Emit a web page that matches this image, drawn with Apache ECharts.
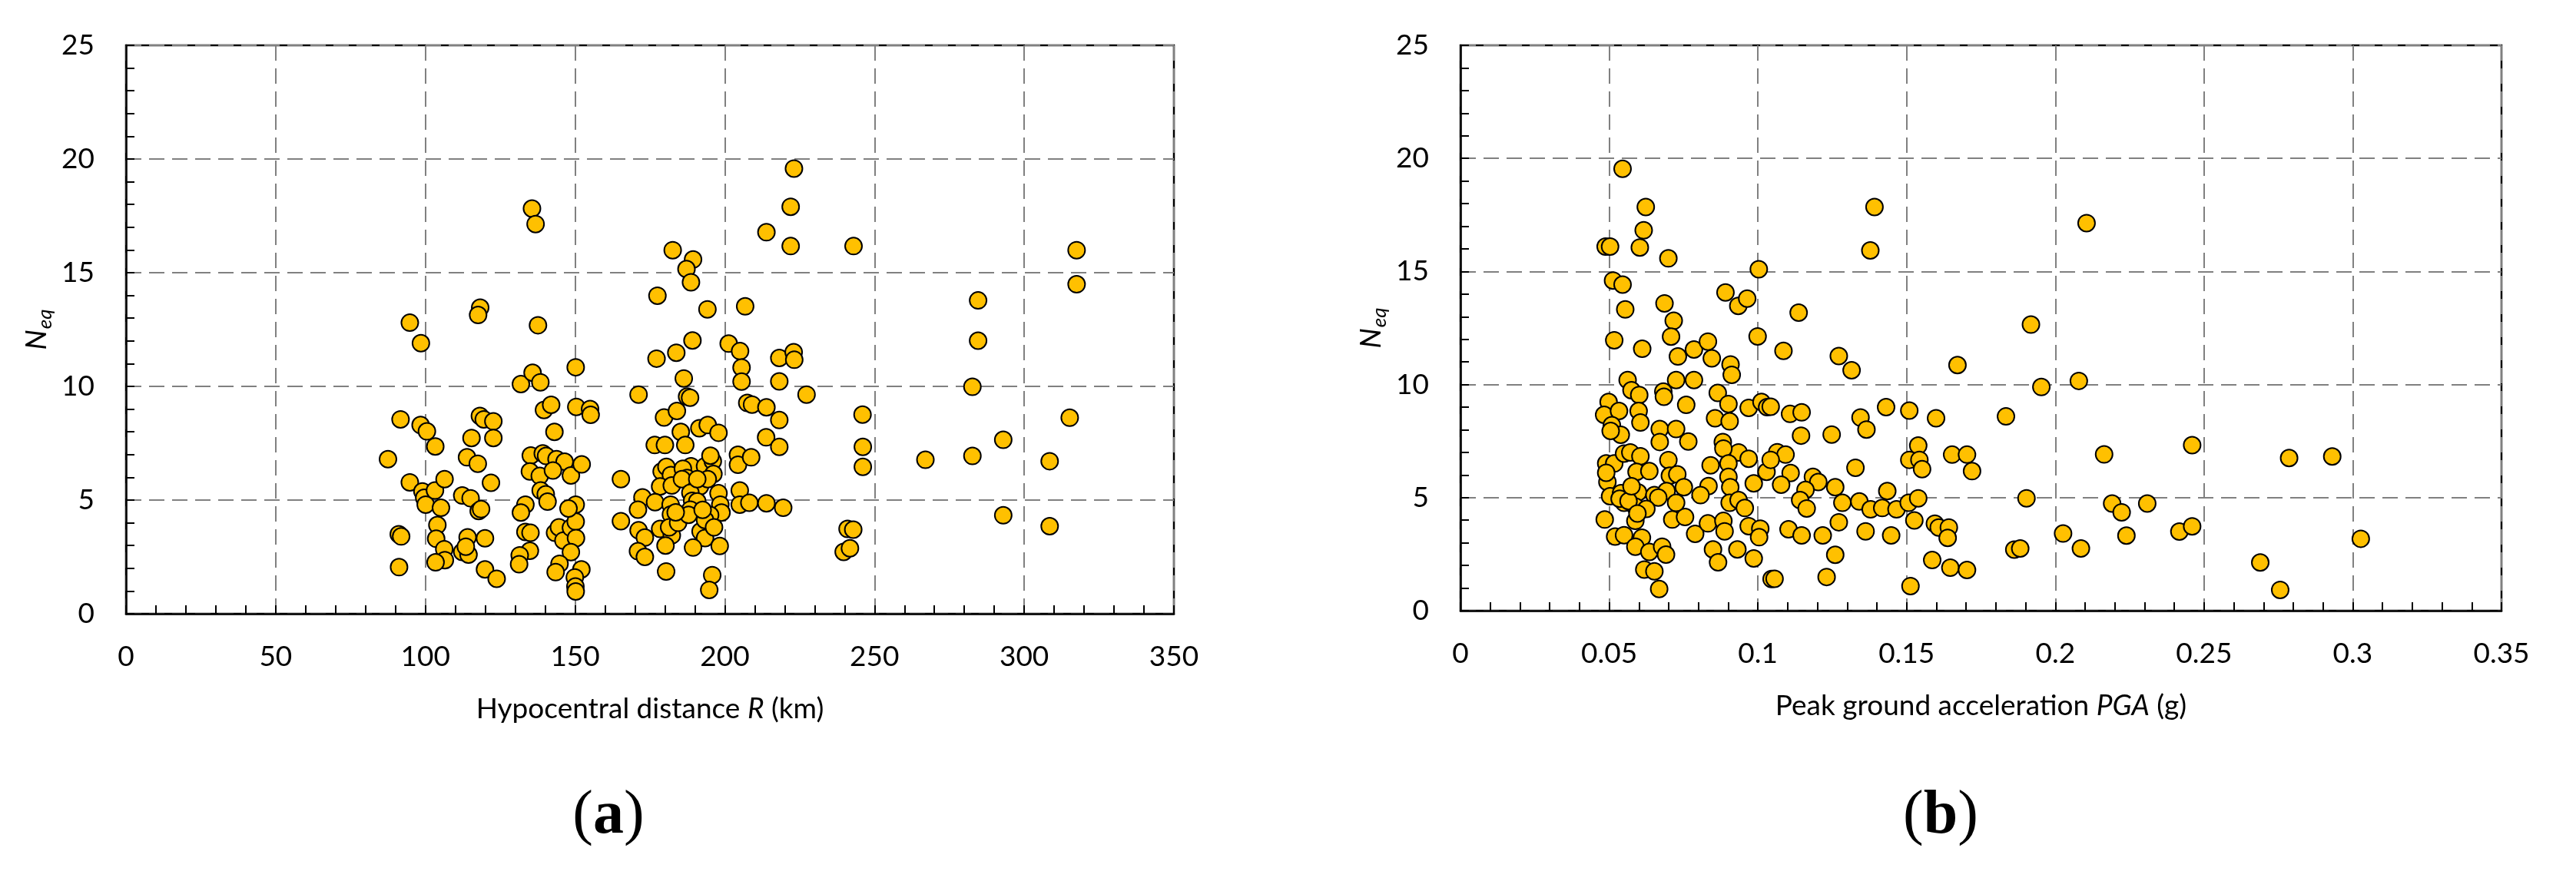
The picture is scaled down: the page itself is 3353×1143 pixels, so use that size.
<!DOCTYPE html>
<html>
<head>
<meta charset="utf-8">
<script src="https://cdn.jsdelivr.net/npm/echarts@6/dist/echarts.min.js"></script>
<style>
  html, body { margin: 0; padding: 0; background: #fff; }
  #main { width: 3353px; height: 1143px; }
</style>
</head>
<body>
<div id="main"></div>
<script>
// (a) hypocentral distance R (km) vs Neq
const distanceData = [
  [87.5, 6.8], [91.7, 8.55], [94.8, 12.8], [98.5, 11.9], [91.1, 3.5], [91.9, 3.4], [91.2, 2.05], [94.8, 5.78], [98.4, 8.3], [100.5, 8.02], [103.3, 7.36],
  [99, 5.38], [99.6, 5.1], [100.1, 4.8], [103.2, 5.42], [106.4, 5.92], [105.2, 4.66], [104, 3.9], [103.6, 3.3], [106.3, 2.84], [106.5, 2.36], [103.4, 2.26],
  [112.3, 5.2], [115.1, 5.08], [117.8, 4.52], [118.6, 4.6], [113.9, 6.88], [117.5, 6.6], [115.4, 7.73], [118.2, 8.7], [119.5, 8.55], [122.7, 8.46], [122.7, 7.73],
  [118.3, 13.46], [117.6, 13.14], [121.9, 5.76], [114.1, 3.36], [112.3, 2.72], [114.4, 2.6], [113.5, 2.95], [119.9, 3.32], [119.9, 1.95], [123.8, 1.54],
  [131.9, 10.1], [135.8, 10.6], [138.4, 10.18], [135.6, 17.82], [136.8, 17.14], [137.6, 12.69], [139.6, 8.96], [142, 9.19], [143.1, 8.0], [150.2, 10.84], [150.4, 9.1], [155, 9.0], [155.2, 8.75],
  [135.2, 6.96], [139.2, 7.05], [140.3, 6.94], [143.8, 6.8], [146.5, 6.69], [134.9, 6.26], [138.2, 6.06], [142.6, 6.3], [148.6, 6.08], [152.2, 6.57],
  [138.5, 5.42], [140.2, 5.25], [140.8, 4.93], [133.4, 4.8], [131.9, 4.45], [133.4, 3.6], [135.1, 3.56], [134.9, 2.77], [131.5, 2.57], [131.3, 2.18],
  [143.3, 3.56], [144.6, 3.8], [146.1, 3.22], [148.6, 3.78], [150.2, 4.05], [150.3, 3.33], [150.2, 4.8], [147.8, 4.63], [148.6, 2.71], [144.8, 2.2], [143.5, 1.83],
  [152.1, 1.95], [149.9, 1.6], [150.1, 1.2], [150.2, 0.98], [165.3, 5.92], [165.3, 4.07],
  [171.2, 9.64], [172.5, 5.12], [171, 4.58], [171.2, 3.67], [173.3, 3.35], [171, 2.75], [173.3, 2.5],
  [177.5, 13.99], [177.2, 11.22], [183.8, 11.48], [189.2, 12.02], [186.3, 10.35], [182.6, 15.99], [189.4, 15.58], [187.2, 15.16], [188.7, 14.58], [194.2, 13.39],
  [187.4, 9.55], [188.4, 9.5], [179.7, 8.63], [184, 8.92], [185.3, 8.0], [186.8, 7.42], [191.5, 8.16], [194.3, 8.3], [197.9, 7.96], [176.6, 7.42], [180, 7.42],
  [178.9, 6.26], [180.5, 6.46], [182, 6.1], [188.7, 6.49], [186, 6.38], [193.4, 6.49], [196, 6.71], [195.2, 6.95], [196.2, 6.15], [187.4, 5.97],
  [178.4, 5.6], [182.3, 5.64], [185.7, 5.92], [191.7, 5.6], [188.5, 5.32], [176.7, 4.91], [181.9, 4.8], [189.1, 4.97], [190.8, 4.94], [197.9, 5.3], [198.5, 4.8], [198.9, 4.45], [195.1, 4.34], [182, 4.37], [188.5, 4.58],
  [178.4, 3.73], [182.3, 3.45], [191.9, 3.62], [193.4, 3.33], [180.2, 3.0], [189.4, 2.91], [198.3, 2.98], [180.4, 1.86], [195.8, 1.7], [194.8, 1.05],
  [181.4, 3.8], [184.4, 4.0], [187.9, 4.35], [193.4, 4.12], [192.6, 4.57], [183.6, 4.46], [194.3, 5.92], [190.8, 5.92], [196.4, 3.8],
  [201.3, 11.88], [205.1, 11.55], [205.6, 10.83], [205.6, 10.21], [206.8, 13.52], [207.5, 9.27], [209.1, 9.2], [213.9, 9.08], [218.2, 8.52], [213.8, 7.76], [218.2, 7.34],
  [204.4, 6.99], [204.4, 6.55], [208.8, 6.88], [205, 5.42], [205, 4.8], [208.2, 4.88], [213.9, 4.86], [219.5, 4.66],
  [218.2, 11.25], [223, 11.5], [223.2, 11.17], [218.2, 10.22], [227.3, 9.64], [223.1, 19.58], [222, 17.9], [213.9, 16.78], [222, 16.17], [243, 16.17],
  [246, 8.76], [246.1, 7.34], [246.1, 6.46], [241, 3.73], [242.9, 3.7], [239.7, 2.72], [241.8, 2.88], [267, 6.77],
  [317.5, 15.99], [317.5, 14.49], [284.6, 13.78], [284.6, 12.01], [282.7, 9.98], [315.2, 8.62], [293, 7.65], [282.7, 6.94], [308.5, 6.71], [293, 4.33], [308.5, 3.85]
];

// (b) peak ground acceleration PGA (g) vs Neq
const pgaData = [
  [0.0545, 19.54], [0.0623, 17.85], [0.0616, 16.82], [0.0488, 16.1], [0.0503, 16.1], [0.0603, 16.06], [0.0699, 15.58], [0.0513, 14.6], [0.0545, 14.42],
  [0.0554, 13.32], [0.0686, 13.59], [0.0717, 12.82], [0.0891, 14.07], [0.0934, 13.48], [0.0964, 13.8], [0.1003, 15.1],
  [0.0517, 11.96], [0.0611, 11.58], [0.0708, 12.12], [0.0731, 11.24], [0.0785, 11.55], [0.0832, 11.9], [0.0845, 11.16], [0.0908, 10.89], [0.0912, 10.43], [0.0999, 12.13],
  [0.0562, 10.2], [0.0575, 9.75], [0.0601, 9.54], [0.0599, 8.83], [0.0605, 8.32], [0.0682, 9.69], [0.0684, 9.46], [0.0725, 10.2], [0.0785, 10.2], [0.0759, 9.1],
  [0.0865, 9.63], [0.0901, 9.14], [0.0856, 8.51], [0.0905, 8.37], [0.0969, 8.97], [0.1012, 9.23], [0.1031, 9.0],
  [0.0498, 9.23], [0.0483, 8.66], [0.0533, 8.83], [0.0509, 8.2], [0.0539, 7.78], [0.0505, 7.95],
  [0.067, 8.03], [0.067, 7.46], [0.0725, 8.03], [0.0766, 7.48], [0.0882, 7.46], [0.0935, 7.0],
  [0.049, 6.51], [0.0517, 6.51], [0.0494, 5.69], [0.049, 6.1], [0.055, 6.95], [0.0571, 7.0], [0.0605, 6.83], [0.0592, 6.14], [0.0635, 6.17], [0.0699, 6.66],
  [0.0704, 5.97], [0.0729, 6.03], [0.0751, 5.46], [0.0834, 5.51], [0.0841, 6.43], [0.0884, 7.17], [0.0901, 6.51], [0.0901, 5.92], [0.0969, 6.72], [0.0986, 5.63], [0.1029, 6.14],
  [0.0503, 5.06], [0.054, 5.2], [0.055, 4.77], [0.0597, 5.23], [0.0588, 4.6], [0.0485, 4.03], [0.052, 3.28], [0.055, 3.34], [0.0588, 3.97], [0.061, 3.23],
  [0.0588, 2.83], [0.0635, 2.6], [0.0618, 1.82], [0.0652, 1.74], [0.0668, 0.96], [0.0678, 2.83], [0.0691, 2.48], [0.0652, 5.11], [0.0693, 5.29], [0.0665, 5.0],
  [0.0712, 4.03], [0.0755, 4.14], [0.0725, 4.77], [0.0807, 5.11], [0.0789, 3.4], [0.0832, 3.86], [0.0849, 2.71], [0.0866, 2.14], [0.0884, 3.97], [0.0888, 3.51],
  [0.0907, 5.46], [0.0905, 4.77], [0.0935, 4.89], [0.0956, 4.54], [0.0931, 2.71], [0.0969, 3.74], [0.1008, 3.63], [0.1004, 3.25], [0.0986, 2.31], [0.1046, 1.4],
  [0.0535, 4.95], [0.0565, 4.85], [0.0575, 5.5], [0.0625, 4.5], [0.0595, 4.3],
  [0.1086, 11.49], [0.1272, 11.26], [0.1315, 10.63], [0.1671, 10.86], [0.1043, 9.02], [0.1108, 8.7], [0.1147, 8.77], [0.1145, 7.74], [0.1248, 7.79], [0.1345, 8.54],
  [0.1365, 8.01], [0.1431, 9.0], [0.1509, 8.85], [0.1599, 8.51], [0.1834, 8.59], [0.1065, 7.01], [0.1093, 6.9], [0.1043, 6.67], [0.111, 6.09], [0.1078, 5.57],
  [0.1185, 5.92], [0.1203, 5.69], [0.116, 5.34], [0.1142, 4.89], [0.1164, 4.52], [0.126, 5.46], [0.1284, 4.77], [0.1328, 6.32], [0.1341, 4.83], [0.1379, 4.48],
  [0.1418, 4.54], [0.1466, 4.48], [0.1435, 5.29], [0.1507, 4.77], [0.1539, 4.97], [0.1539, 7.3], [0.1509, 6.67], [0.1543, 6.67], [0.1552, 6.26], [0.1653, 6.9],
  [0.1703, 6.9], [0.172, 6.17], [0.1526, 3.99], [0.1272, 3.91], [0.1103, 3.6], [0.1147, 3.33], [0.1218, 3.33], [0.1362, 3.51], [0.1448, 3.33], [0.1595, 3.85],
  [0.1608, 3.68], [0.1642, 3.68], [0.1638, 3.22], [0.126, 2.47], [0.1056, 1.41], [0.1231, 1.49], [0.1586, 2.24], [0.1647, 1.9], [0.1703, 1.8], [0.1513, 1.09], [0.1862, 2.7],
  [0.1392, 17.85], [0.1378, 15.93], [0.1137, 13.18], [0.1918, 12.65], [0.1953, 9.89], [0.2105, 17.14], [0.2079, 10.16], [0.2164, 6.91], [0.1903, 4.97],
  [0.2191, 4.74], [0.2223, 4.35], [0.2309, 4.74], [0.1882, 2.75], [0.2026, 3.41], [0.2086, 2.75], [0.2239, 3.32],
  [0.246, 7.32], [0.2417, 3.5], [0.246, 3.73], [0.2786, 6.75], [0.2931, 6.82], [0.3027, 3.18], [0.2689, 2.13], [0.2756, 0.92]
];

const neqTicks = { min: 0, max: 25, interval: 5 };
const distanceTicks = { min: 0, max: 350, interval: 50 };
const pgaTicks = { min: 0, max: 0.35, interval: 0.05 };

const FONT = 'Lato';
const chart = echarts.init(document.getElementById('main'));

const tickStyle = { color: '#000', width: 2 };
const gridLine = { show: true, lineStyle: { color: '#808080', width: 2, type: [20, 10] } };

const makeXAxis = (gridIndex, ticks, name) => ({
  type: 'value',
  gridIndex: gridIndex,
  min: ticks.min,
  max: ticks.max,
  interval: ticks.interval,
  name: name,
  nameLocation: 'middle',
  nameGap: 106,
  nameMoveOverlap: false,
  nameTextStyle: {
    rich: {
      t: { fontFamily: FONT, fontSize: 37, color: '#000' },
      i: { fontFamily: FONT, fontSize: 37, color: '#000', fontStyle: 'italic' },
    },
  },
  axisLine: { show: true, onZero: false, lineStyle: { color: '#000', width: 2.5 } },
  axisTick: { show: true, inside: true, length: 11, lineStyle: tickStyle },
  minorTick: { show: true, splitNumber: 5, length: 11, lineStyle: tickStyle },
  axisLabel: { color: '#000', fontFamily: FONT, fontSize: 37, margin: 38 },
  splitLine: gridLine,
});

const makeYAxis = (gridIndex) => ({
  type: 'value',
  gridIndex: gridIndex,
  min: neqTicks.min,
  max: neqTicks.max,
  interval: neqTicks.interval,
  name: '{n|N}{s|eq}',
  nameLocation: 'middle',
  nameRotate: 90,
  nameGap: 92,
  nameMoveOverlap: false,
  nameTextStyle: {
    rich: {
      n: { fontFamily: FONT, fontSize: 37, color: '#000', fontStyle: 'italic', verticalAlign: 'top' },
      s: { fontFamily: FONT, fontSize: 26, color: '#000', fontStyle: 'italic', verticalAlign: 'top', padding: [16, 0, 0, 1] },
    },
  },
  axisLine: { show: true, onZero: false, lineStyle: { color: '#000', width: 2.5 } },
  axisTick: { show: true, inside: true, length: 11, lineStyle: tickStyle },
  minorTick: { show: true, splitNumber: 5, length: 11, lineStyle: tickStyle },
  axisLabel: { color: '#000', fontFamily: FONT, fontSize: 37, margin: 41 },
  splitLine: gridLine,
});

const dotStyle = { color: '#FFC000', borderColor: '#000', borderWidth: 2, opacity: 1 };

const panelLabel = (x, letter) => ({
  type: 'text',
  x: x,
  y: 1063,
  style: {
    text: '{p|(}{b|' + letter + '}{p|)}',
    rich: {
      p: { fontFamily: 'Liberation Serif', fontSize: 80, fill: '#000' },
      b: { fontFamily: 'Liberation Serif', fontSize: 80, fontWeight: 'bold', fill: '#000' },
    },
    align: 'center',
    verticalAlign: 'middle',
    textAlign: 'center',
    textVerticalAlign: 'middle',
  },
});

chart.setOption({
  backgroundColor: '#fff',
  animation: false,
  grid: [
    { left: 164, top: 59, width: 1364, height: 740, show: true, borderColor: '#000', borderWidth: 2.5, containLabel: false, outerBoundsMode: 'none' },
    { left: 1901, top: 59, width: 1355, height: 736, show: true, borderColor: '#000', borderWidth: 2.5, containLabel: false, outerBoundsMode: 'none' },
  ],
  xAxis: [
    makeXAxis(0, distanceTicks, '{t|Hypocentral distance }{i|R}{t| (km)}'),
    makeXAxis(1, pgaTicks, '{t|Peak ground acceleration }{i|PGA}{t| (g)}'),
  ],
  yAxis: [makeYAxis(0), makeYAxis(1)],
  graphic: [panelLabel(792, 'a'), panelLabel(2526, 'b')],
  series: [
    {
      type: 'scatter',
      xAxisIndex: 0,
      yAxisIndex: 0,
      symbol: 'circle',
      symbolSize: 22,
      itemStyle: dotStyle,
      data: distanceData,
    },
    {
      type: 'scatter',
      xAxisIndex: 1,
      yAxisIndex: 1,
      symbol: 'circle',
      symbolSize: 22,
      itemStyle: dotStyle,
      data: pgaData,
    },
  ],
});
</script>
</body>
</html>
